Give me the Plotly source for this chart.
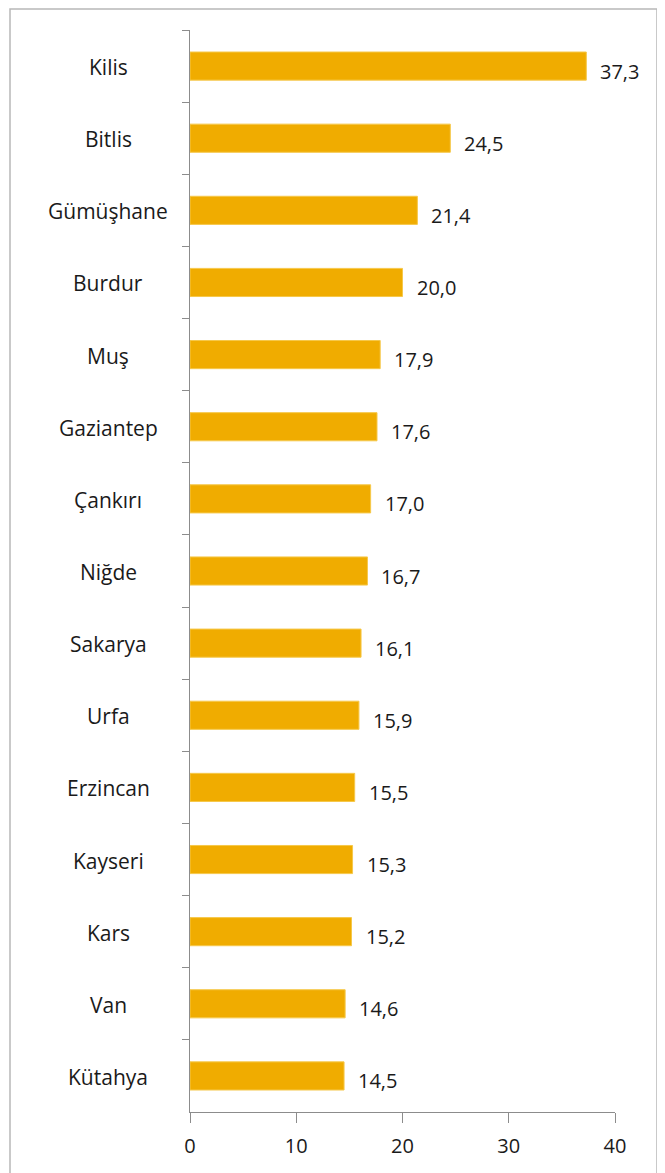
import plotly.graph_objects as go

provinces = ["Kilis", "Bitlis", "Gümüşhane", "Burdur", "Muş", "Gaziantep", "Çankırı",
             "Niğde", "Sakarya", "Urfa", "Erzincan", "Kayseri", "Kars", "Van", "Kütahya"]
values = [37.3, 24.5, 21.4, 20.0, 17.9, 17.6, 17.0, 16.7, 16.1, 15.9, 15.5, 15.3, 15.2, 14.6, 14.5]
x_ticks = [0, 10, 20, 30, 40]

# page has an 8px body margin, so the figure is laid out 8px smaller / shifted
W, H = 657, 1165
L, R, T, B = 182, 50, 22, 61
pw = W - L - R
ph = H - T - B

fig = go.Figure(go.Bar(
    x=values, y=provinces, orientation="h",
    marker=dict(color="#F0AC00", line=dict(color="#F6C84A", width=1)),
    width=0.39, hoverinfo="skip",
))

cat_font = dict(family="Open Sans, Noto Sans, sans-serif", size=21, color="#1a1a1a")
val_font = dict(family="Open Sans, Noto Sans, sans-serif", size=20, color="#1a1a1a")

# category labels centered to the left of the axis
for p in provinces:
    fig.add_annotation(x=(100 - L) / pw, xref="paper", y=p, yref="y", text=p,
                       showarrow=False, xanchor="center", yanchor="middle",
                       font=cat_font, yshift=-1)

# value labels
for p, v in zip(provinces, values):
    fig.add_annotation(x=v, y=p, xref="x", yref="y", text=f"{v:.1f}".replace(".", ","),
                       showarrow=False, xanchor="left", yanchor="middle",
                       xshift=12, yshift=-5, font=val_font)

# outer frame
fig.add_shape(type="rect", xref="paper", yref="paper",
              x0=(2 - L) / pw, x1=(649 - L) / pw,
              y0=-(B + 20) / ph,
              y1=1 + (T - 1) / ph,
              line=dict(color="#B8B8B8", width=1.5), fillcolor="rgba(0,0,0,0)")

fig.update_layout(
    width=W, height=H,
    margin=dict(l=L, r=R, t=T, b=B),
    paper_bgcolor="white", plot_bgcolor="white",
    showlegend=False,
    xaxis=dict(range=[0, 40], tickvals=x_ticks, ticktext=[str(t) for t in x_ticks],
               showgrid=False, zeroline=False, showline=True, linecolor="#8c8c8c", linewidth=1.3,
               ticks="outside", ticklen=10, tickcolor="#8c8c8c", tickwidth=1.3,
               tickfont=dict(family="Open Sans, Noto Sans, sans-serif", size=20, color="#1a1a1a"),
               ticklabelstandoff=6, fixedrange=True),
    yaxis=dict(autorange="reversed", showticklabels=False, showgrid=False, zeroline=False,
               showline=True, linecolor="#8c8c8c", linewidth=1.3,
               ticks="outside", tickson="boundaries", ticklen=7, tickcolor="#8c8c8c", tickwidth=1.3,
               fixedrange=True),
)

fig.write_html("out.html")
